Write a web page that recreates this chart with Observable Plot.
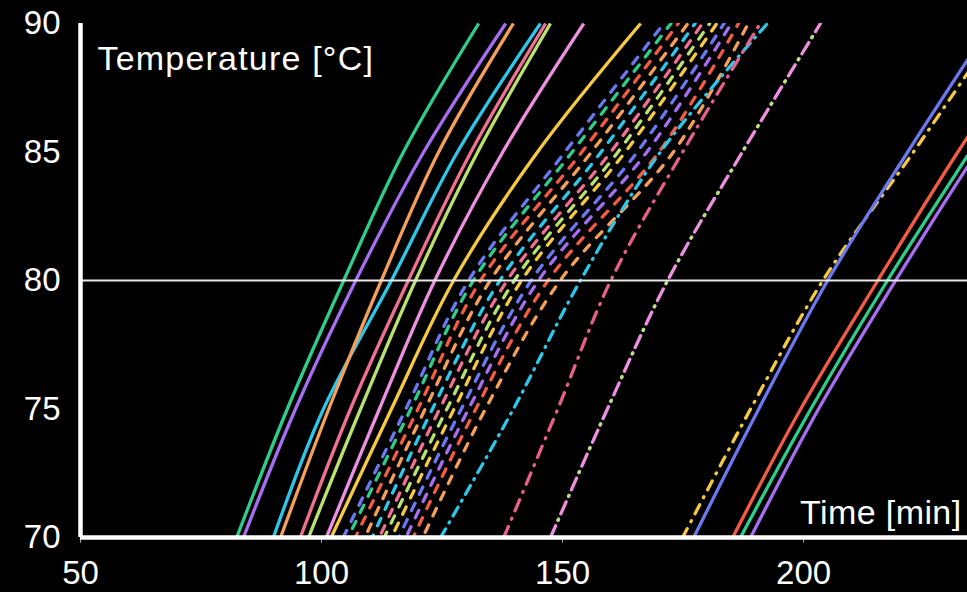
<!DOCTYPE html>
<html>
<head>
<meta charset="utf-8">
<script src="https://cdn.jsdelivr.net/npm/d3@7"></script>
<script src="https://cdn.jsdelivr.net/npm/@observablehq/plot@0.6"></script>
<style>
  html, body { margin: 0; padding: 0; background: #000; }
  #chart { width: 967px; height: 592px; overflow: hidden; }
  .lbl text { letter-spacing: 1.2px; }
  .lbl2 text { letter-spacing: 0.4px; }
</style>
</head>
<body>
<div id="chart"></div>
<script>
// ---------- DATA ----------
const temps = [70, 75, 80, 85, 90];          // temperature levels [°C]
const xTicks = [50, 100, 150, 200];
const yTicks = [70, 75, 80, 85, 90];
const threshold = 80;

// time [min] at which each curve reaches the temperature levels above
// solid curves
const solidGreen      = [82.4, 92.9, 104.6, 117.0, 132.6];
const solidPurple     = [83.8, 94.6, 107.1, 121.2, 138.2];
const solidCyan       = [90.0, 100.4, 114.5, 128.2, 145.4];
const solidOrange     = [91.5, 101.5, 112.4, 124.3, 139.8];
const solidSalmon     = [95.6, 106.0, 118.0, 131.0, 146.5];
const solidLightGreen = [97.3, 108.1, 119.5, 132.4, 147.5];
const solidVioletPink = [101.0, 112.0, 123.5, 137.6, 154.4];
const solidYellow     = [102.0, 114.5, 127.4, 144.8, 166.2];
// dashed cluster
const dash1  = [104.5, 117.5, 130.5, 150.5, 171.0];
const dash2  = [105.5, 118.5, 131.5, 152.0, 172.5];
const dash3  = [107.0, 120.0, 133.0, 154.0, 174.0];
const dash4  = [109.0, 121.5, 135.0, 156.0, 176.0];
const dash5  = [110.5, 123.0, 137.0, 158.0, 177.5];
const dash6  = [112.0, 124.5, 138.5, 160.0, 179.0];
const dash7  = [113.0, 126.0, 140.0, 161.5, 180.5];
const dash8  = [114.5, 127.5, 141.5, 163.0, 182.0];
const dash9  = [116.0, 129.0, 143.5, 165.5, 183.5];
const dash10 = [117.5, 130.5, 145.0, 167.5, 185.0];
const dash11 = [119.0, 132.0, 147.0, 170.0, 186.5];
const dash12 = [121.0, 134.0, 149.5, 173.0, 188.5];
// dash-dot curves
const ddCyan       = [124.7, 139.8, 153.7, 170.3, 192.5];
const ddDeepPink   = [137.8, 149.0, 160.0, 174.9, 191.0];
const ddPink       = [147.5, 159.3, 171.8, 187.3, 203.5];
const ddLightGreen = [147.5, 159.3, 171.8, 187.3, 203.5];
const ddYellow     = [174.9, 189.0, 204.0, 222.8, 241.0];
// late solid curves
const lateBlue   = [177.2, 190.7, 205.0, 221.6, 239.0];
const lateRed    = [185.3, 199.4, 215.4, 232.0, 250.0];
const lateGreen  = [186.9, 201.5, 217.4, 234.5, 252.0];
const latePurple = [189.0, 203.1, 219.1, 236.0, 254.0];

// ---------- STYLES ----------
const C = {
  green: "#2fcc8b", purple: "#a66ef0", orange: "#f5a05a", cyan: "#2fc6e8",
  salmon: "#ef7090", lightgreen: "#b9e070", violetpink: "#ee90e0", yellow: "#f6c945",
  red: "#f25c45", blue: "#6c78f0", deeppink: "#e6608e"
};
const DASH = "8,10";
const series = [
  {t: solidGreen, c: C.green}, {t: solidPurple, c: C.purple},
  {t: solidCyan, c: C.cyan}, {t: solidOrange, c: C.orange},
  {t: solidSalmon, c: C.salmon}, {t: solidLightGreen, c: C.lightgreen},
  {t: solidVioletPink, c: C.violetpink}, {t: solidYellow, c: C.yellow},
  {t: dash1, c: C.blue, d: DASH, o: 0}, {t: dash2, c: C.green, d: DASH, o: 8},
  {t: dash3, c: C.red, d: DASH, o: 3}, {t: dash4, c: C.orange, d: DASH, o: 11},
  {t: dash5, c: C.cyan, d: DASH, o: 5}, {t: dash6, c: C.salmon, d: DASH, o: 13},
  {t: dash7, c: C.lightgreen, d: DASH, o: 2}, {t: dash8, c: C.yellow, d: DASH, o: 10},
  {t: dash9, c: C.blue, d: DASH, o: 6}, {t: dash10, c: C.purple, d: DASH, o: 14},
  {t: dash11, c: C.red, d: DASH, o: 4}, {t: dash12, c: C.orange, d: DASH, o: 12},
  {t: ddCyan, c: C.cyan, d: "10,7,1,7"},
  {t: ddDeepPink, c: C.deeppink, d: "12,8,1,8"},
  {t: ddPink, c: C.violetpink, d: "13,6,1,6"},
  {t: ddLightGreen, c: C.lightgreen, d: "1,25", o: -19},
  {t: ddYellow, c: C.yellow, d: "10,8,1,8"},
  {t: lateBlue, c: C.blue}, {t: lateRed, c: C.red},
  {t: lateGreen, c: C.green}, {t: latePurple, c: C.purple}
];

const lineMarks = series.map(s => Plot.line(
  temps.map((T, i) => ({time: s.t[i], temp: T})),
  {
    x: "time", y: "temp", stroke: s.c, strokeWidth: 3.3,
    strokeDasharray: s.d, strokeDashoffset: s.o || 0,
    strokeLinecap: s.d ? "round" : "butt",
    curve: "catmull-rom", clip: true
  }
));

const chart = Plot.plot({
  width: 967,
  height: 592,
  marginLeft: 80,
  marginRight: 0,
  marginTop: 23,
  marginBottom: 55,
  style: {background: "#000", color: "#fff", fontFamily: "Liberation Sans, Arial, sans-serif", fontSize: "33px", overflow: "visible"},
  x: {domain: [50, 234], label: null},
  y: {domain: [70, 90], label: null},
  marks: [
    ...lineMarks,
    Plot.ruleY([threshold], {stroke: "#e8e8e8", strokeWidth: 1.8}),
    Plot.axisX({ticks: xTicks, tickSize: 6, tickPadding: 17, stroke: "#999", tickFormat: d => d, fontSize: 33, label: null}),
    Plot.axisY({ticks: yTicks, tickSize: 0, tickPadding: 20, tickFormat: d => d, fontSize: 33, label: null}),
    Plot.ruleX([50], {y1: 70, y2: 90, stroke: "#fff", strokeWidth: 4.5}),
    Plot.ruleY([70], {x1: 50, x2: 234, stroke: "#fff", strokeWidth: 4.5}),
    Plot.text(["Temperature [°C]"], {frameAnchor: "top-left", dx: 17, dy: 22, textAnchor: "start", lineAnchor: "top", fill: "#fff", fontSize: 34, className: "lbl"}),
    Plot.text(["Time [min]"], {frameAnchor: "bottom-right", dx: -6, dy: -14, textAnchor: "end", lineAnchor: "bottom", fill: "#fff", fontSize: 34, className: "lbl2"})
  ]
});
document.getElementById("chart").appendChild(chart);
</script>
</body>
</html>
